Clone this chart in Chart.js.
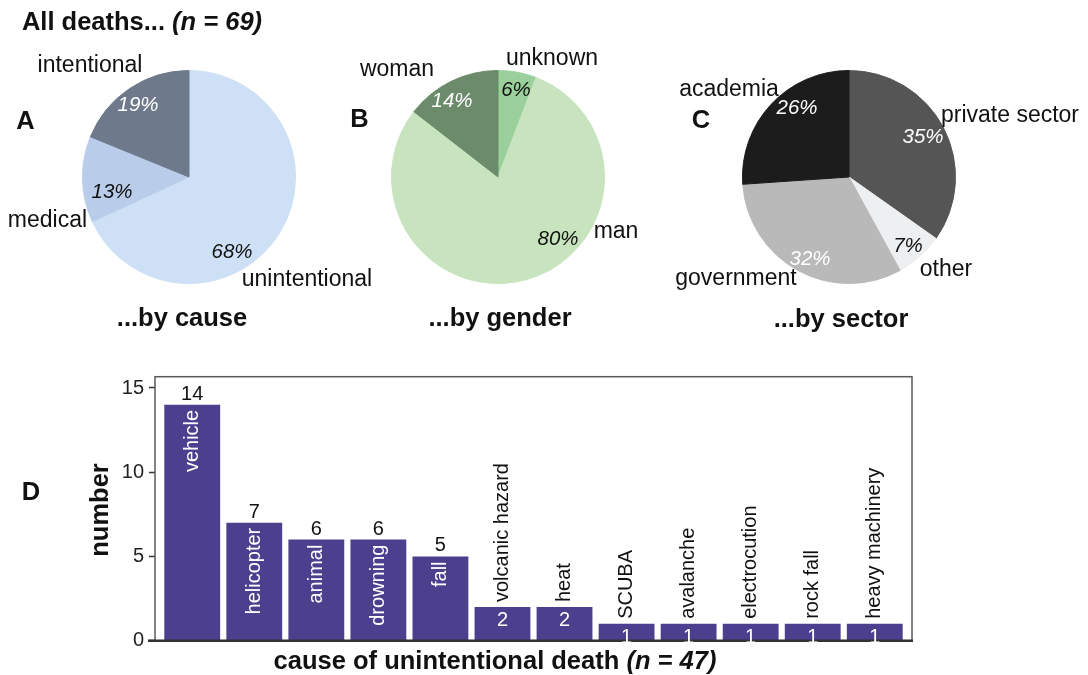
<!DOCTYPE html>
<html><head><meta charset="utf-8">
<script src="https://cdn.jsdelivr.net/npm/chart.js@4/dist/chart.umd.min.js"></script>
<style>
body{margin:0;width:1088px;height:675px;position:relative;background:#fff;font-family:"Liberation Sans",Arial,Helvetica,sans-serif;overflow:hidden;color:#111}
.t{position:absolute;white-space:nowrap;transform:translate(-50%,-50%);line-height:1}
canvas{position:absolute}
</style></head><body>
<canvas id="bar" width="1088" height="675" style="left:0;top:0"></canvas>
<canvas id="pieA" width="214" height="214"></canvas>
<canvas id="pieB" width="214" height="214"></canvas>
<canvas id="pieC" width="214" height="214"></canvas>
<script>
// ---- data ----
const causeLabels = ['unintentional', 'medical', 'intentional'];
const causeValues = [47, 9, 13];
const genderLabels = ['unknown', 'man', 'woman'];
const genderValues = [4, 55, 10];
const sectorLabels = ['private sector', 'other', 'government', 'academia'];
const sectorValues = [24, 5, 22, 18];
const barCategories = ['vehicle', 'helicopter', 'animal', 'drowning', 'fall', 'volcanic hazard', 'heat', 'SCUBA', 'avalanche', 'electrocution', 'rock fall', 'heavy machinery'];
const barValues = [14, 7, 6, 6, 5, 2, 2, 1, 1, 1, 1, 1];
const yTicks = [0, 5, 10, 15];

// ---- styles / layout ----
const FONT = '"Liberation Sans", Arial, Helvetica, sans-serif';
const causeColors = ['#cde0f5', '#b9cdea', '#6e7a8b'];
const genderColors = ['#9bd09c', '#c8e4be', '#6b8b6b'];
const sectorColors = ['#555555', '#eeeff1', '#b9b9b9', '#1c1c1c'];
const pies = [
  {id: 'pieA', cx: 188.5, cy: 177, labels: causeLabels, values: causeValues, colors: causeColors,
   namePos: [[307, 278], [47.5, 219], [90, 64]],
   pctPos: [[232, 251, '#111'], [112, 191, '#111'], [138, 104, '#fff']]},
  {id: 'pieB', cx: 497.5, cy: 177, labels: genderLabels, values: genderValues, colors: genderColors,
   namePos: [[552, 57], [616, 229.5], [397, 68]],
   pctPos: [[516, 89, '#111'], [558, 238, '#111'], [452, 100, '#fff']]},
  {id: 'pieC', cx: 848.5, cy: 177, labels: sectorLabels, values: sectorValues, colors: sectorColors,
   namePos: [[1010, 114], [946, 268], [736, 277], [729, 88]],
   pctPos: [[923, 136, '#fff'], [908, 245, '#111'], [810, 258, '#fff'], [797, 107, '#fff']]}
];

function addText(html, x, y, style) {
  const d = document.createElement('div');
  d.className = 't';
  d.innerHTML = html;
  d.style.left = x + 'px';
  d.style.top = y + 'px';
  Object.assign(d.style, style || {});
  document.body.appendChild(d);
}

Chart.defaults.font.family = FONT;

pies.forEach(p => {
  const c = document.getElementById(p.id);
  c.style.left = (p.cx - 107) + 'px';
  c.style.top = (p.cy - 107) + 'px';
  new Chart(c, {
    type: 'pie',
    data: {labels: p.labels, datasets: [{data: p.values, backgroundColor: p.colors, borderColor: p.colors, borderWidth: 1}]},
    options: {responsive: false, animation: false, layout: {padding: 0},
      plugins: {legend: {display: false}, tooltip: {enabled: false}}}
  });
  const total = p.values.reduce((a, b) => a + b, 0);
  p.labels.forEach((lab, i) => {
    addText(lab, p.namePos[i][0], p.namePos[i][1], {fontSize: '23px'});
    const pct = Math.round(p.values[i] / total * 100) + '%';
    addText(pct, p.pctPos[i][0], p.pctPos[i][1], {fontSize: '20.5px', fontStyle: 'italic', color: p.pctPos[i][2]});
  });
});

// titles
const B = {fontSize: '25.5px', fontWeight: 'bold'};
addText('All deaths... <i>(n = 69)</i>', 142, 22, B);
addText('A', 25.5, 120.5, B);
addText('B', 359.5, 119, B);
addText('C', 701, 120, B);
addText('D', 31, 492, B);
addText('...by cause', 182, 318, B);
addText('...by gender', 500, 318, B);
addText('...by sector', 841, 319, B);
addText('cause of unintentional death <i>(n = 47)</i>', 495, 661, B);
addText('number', 100, 510, Object.assign({transform: 'translate(-50%,-50%) rotate(-90deg)'}, B));

// ---- bar chart ----
const barLabelPlugin = {
  id: 'barLabels',
  afterDatasetsDraw(chart) {
    const ctx = chart.ctx;
    const a = chart.chartArea;
    ctx.save();
    // frame
    ctx.strokeStyle = '#5a5a5a';
    ctx.lineWidth = 1.5;
    ctx.strokeRect(a.left, a.top, a.right - a.left, a.bottom - a.top);
    ctx.strokeStyle = '#333';
    ctx.lineWidth = 2.5;
    ctx.beginPath();
    ctx.moveTo(a.left - 7, a.bottom);
    ctx.lineTo(a.right + 1, a.bottom);
    ctx.stroke();
    // labels
    const meta = chart.getDatasetMeta(0);
    meta.data.forEach((el, i) => {
      const v = barValues[i];
      const x = el.x, top = el.y;
      ctx.font = '20px ' + FONT;
      ctx.textAlign = 'center';
      ctx.textBaseline = 'alphabetic';
      if (v >= 5) {
        ctx.fillStyle = '#111';
        ctx.fillText(String(v), x, top - 5);
        ctx.save();
        ctx.translate(x, top + 5);
        ctx.rotate(-Math.PI / 2);
        ctx.textAlign = 'right';
        ctx.textBaseline = 'middle';
        ctx.fillStyle = '#fff';
        ctx.fillText(barCategories[i], 0, 0);
        ctx.restore();
      } else {
        ctx.fillStyle = '#fff';
        ctx.fillText(String(v), x, top + 19);
        ctx.save();
        ctx.translate(x, top - 5);
        ctx.rotate(-Math.PI / 2);
        ctx.textAlign = 'left';
        ctx.textBaseline = 'middle';
        ctx.fillStyle = '#111';
        ctx.fillText(barCategories[i], 0, 0);
        ctx.restore();
      }
    });
    ctx.restore();
  }
};

new Chart(document.getElementById('bar'), {
  type: 'bar',
  data: {
    datasets: [{
      data: barValues.map((v, i) => ({x: i, y: v})),
      backgroundColor: '#4b3f8e',
      barPercentage: 0.9,
      categoryPercentage: 1
    }]
  },
  options: {
    responsive: false, animation: false,
    layout: {padding: {left: 0, top: 376.7, right: 176, bottom: 34.3}},
    plugins: {legend: {display: false}, tooltip: {enabled: false}},
    scales: {
      x: {type: 'linear', min: -0.6, max: 11.6, offset: false, display: false},
      y: {
        min: 0, max: 15.67,
        afterBuildTicks: s => { s.ticks = yTicks.map(v => ({value: v})); },
        afterFit: s => { s.width = 155; },
        ticks: {font: {size: 20, family: FONT}, color: '#222', padding: 5},
        grid: {drawOnChartArea: false, drawTicks: true, tickLength: 6, tickColor: '#333', tickWidth: 1.5},
        border: {display: false}
      }
    }
  },
  plugins: [barLabelPlugin]
});
</script>
</body></html>
